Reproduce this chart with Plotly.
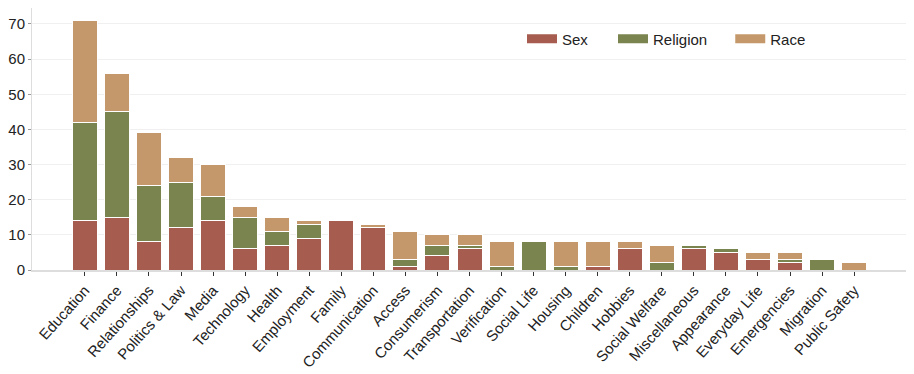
import plotly.graph_objects as go

categories = ["Education", "Finance", "Relationships", "Politics & Law", "Media",
              "Technology", "Health", "Employment", "Family", "Communication",
              "Access", "Consumerism", "Transportation", "Verification", "Social Life",
              "Housing", "Children", "Hobbies", "Social Welfare", "Miscellaneous",
              "Appearance", "Everyday Life", "Emergencies", "Migration", "Public Safety"]
sex = [14, 15, 8, 12, 14, 6, 7, 9, 14, 12, 1, 4, 6, 0, 0, 0, 1, 6, 0, 6, 5, 3, 2, 0, 0]
religion = [28, 30, 16, 13, 7, 9, 4, 4, 0, 0, 2, 3, 1, 1, 8, 1, 0, 0, 2, 1, 1, 0, 1, 3, 0]
race = [29, 11, 15, 7, 9, 3, 4, 1, 0, 1, 8, 3, 3, 7, 0, 7, 7, 2, 5, 0, 0, 2, 2, 0, 2]

series = [("Sex", sex, "#a65c4e"), ("Religion", religion, "#7a844e"), ("Race", race, "#c4986a")]
legend_x = [0.56, 0.664, 0.798]

fig = go.Figure()
for i, (name, vals, col) in enumerate(series):
    fig.add_trace(go.Bar(x=categories, y=vals, name=name, showlegend=False,
                         marker=dict(color=col, line=dict(color="white", width=1))))
    # legend swatch as a thick line so it is a wide rectangle like the original
    lg = "legend" if i == 0 else "legend%d" % (i + 1)
    fig.add_trace(go.Scatter(x=[None], y=[None], mode="lines", name=name, legend=lg,
                             line=dict(color=col, width=9)))

leg = dict(orientation="h", y=0.882, xanchor="left", yanchor="middle",
           font=dict(size=15, color="#222"), bgcolor="rgba(0,0,0,0)", itemwidth=30)

# page body has an 8px margin, so the figure is a bit smaller than the window
fig.update_layout(
    barmode="stack",
    bargap=0.22,
    width=906, height=366,
    margin=dict(l=24, r=7, t=0, b=104),
    plot_bgcolor="white", paper_bgcolor="white",
    font=dict(family="Liberation Sans, Arial, sans-serif", size=15, color="#222"),
    legend=dict(leg, x=legend_x[0]),
    legend2=dict(leg, x=legend_x[1]),
    legend3=dict(leg, x=legend_x[2]),
    xaxis=dict(range=[-1.65, 25.65], tickangle=-48, ticks="outside", ticklen=4,
               tickcolor="#333", showline=True, linecolor="#ddd", linewidth=1.5,
               tickfont=dict(size=15), automargin=False),
    yaxis=dict(range=[0, 74.55], dtick=10, ticks="outside", ticklen=3, tickcolor="#999",
               showline=True, linecolor="#ddd", gridcolor="#f0f0f0", zeroline=False,
               tickfont=dict(size=15), ticklabelstandoff=0, automargin=False),
)

fig.write_html("out.html")
